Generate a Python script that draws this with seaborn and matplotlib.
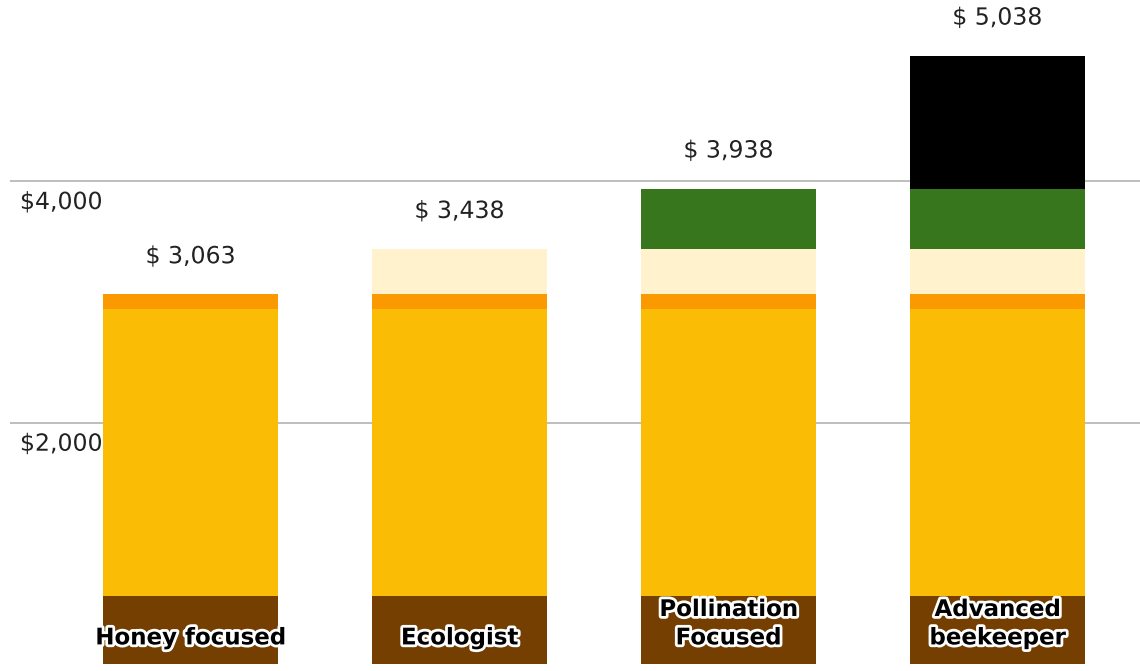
import matplotlib
matplotlib.use("Agg")
import matplotlib.pyplot as plt
import matplotlib.patheffects as pe
import matplotlib.transforms as mtransforms
import seaborn as sns
import pandas as pd
import numpy as np

# data
categories = ["Honey focused", "Ecologist", "Pollination\nFocused", "Advanced\nbeekeeper"]
brown = [563, 563, 563, 563]
yellow = [2375, 2375, 2375, 2375]
orange = [125, 125, 125, 125]
cream = [0, 375, 375, 375]
green = [0, 0, 500, 500]
black = [0, 0, 0, 1100]
totals = [3063, 3438, 3938, 5038]
yticks = [2000, 4000]
ytick_labels = ["$2,000", "$4,000"]

layers = [brown, yellow, orange, cream, green, black]
colors = ["#743f00", "#fbbc05", "#fb9a00", "#fff2cc", "#38761d", "#000000"]

sns.set_style("white")
plt.rcParams["font.family"] = ["DejaVu Sans"]

fig = plt.figure(figsize=(11.4, 6.71), dpi=100)
ax = fig.add_axes([10 / 1140, 0, 1130 / 1140, 1])

# gridlines behind bars
for t in yticks:
    ax.axhline(t, color="#b3b3b3", lw=1.2, zorder=0)

# stacked bars: draw cumulative heights from the top layer down
cum = np.cumsum(np.array(layers), axis=0)
for i in range(len(layers) - 1, -1, -1):
    df = pd.DataFrame({"cat": categories, "val": cum[i]})
    sns.barplot(data=df, x="cat", y="val", color=colors[i], width=0.65,
                saturation=1, ax=ax, zorder=2, linewidth=0)

ax.set_xlim(-0.671, 3.530)
ax.set_ylim(-54.6, 5498)
ax.axis("off")

halo = [pe.withStroke(linewidth=3, foreground="white")]
for i, tot in enumerate(totals):
    ax.annotate(f"$ {tot:,}", (i, tot), xytext=(0, 38), textcoords="offset pixels",
                ha="center", va="center", fontsize=17, color="#222222",
                path_effects=halo, zorder=5)
    ax.annotate(categories[i], (i, 0), xytext=(0, 15), textcoords="offset pixels",
                ha="center", va="bottom", fontsize=16.5, fontweight="bold",
                color="black", linespacing=1.3,
                path_effects=[pe.withStroke(linewidth=4, foreground="white")],
                zorder=5)

trans = mtransforms.blended_transform_factory(ax.transAxes, ax.transData)
for t, lab in zip(yticks, ytick_labels):
    ax.annotate(lab, (0.0088, t), xycoords=trans, xytext=(0, -21),
                textcoords="offset pixels", ha="left", va="center",
                fontsize=17, color="#222222", path_effects=halo, zorder=5)

fig.savefig("out.png", dpi=100)
